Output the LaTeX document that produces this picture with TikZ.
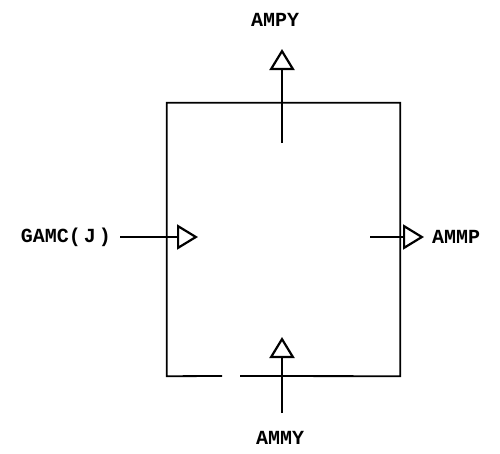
\documentclass[tikz,border=0pt]{standalone}
\usepackage{fontspec}
\setmonofont{Liberation Mono}
\usetikzlibrary{arrows.meta}
\begin{document}
\begin{tikzpicture}[x=1pt,y=-1pt,
  lbl/.style={font=\ttfamily\bfseries\fontsize{20}{22}\selectfont, inner sep=0pt},
  edge/.style={line width=1.8pt},
  flow/.style={line width=2pt, -{Triangle[open,length=21pt,width=25pt,line width=2.2pt]}}]
\useasboundingbox (0,0) rectangle (500,453);
% box
\node (box) [minimum width=233pt, minimum height=273pt, inner sep=0pt] at (283.5,239.5) {};
\coordinate (gapL) at (222,376);
\coordinate (gapR) at (240,376);
\draw[edge] (gapL) -- (box.south west) -- (box.north west) -- (box.north east) -- (box.south east) -- (gapR);
% labels
\node[lbl] (ampy) at (275,20) {AMPY};
\node[lbl, anchor=east] (gamc) at (111,237) {GAMC(\hspace{3pt}J\hspace{3pt})};
\node[lbl, anchor=west] (ammp) at (432,237) {AMMP};
\node[lbl] (ammy) at (280,438) {AMMY};
% arrows
\coordinate (topS) at (282,143);
\coordinate (topT) at (282,49);
\draw[flow] (topS) -- (topT);
\coordinate (leftS) at (120,237);
\coordinate (leftT) at (198,237);
\draw[flow] (leftS) -- (leftT);
\coordinate (rightS) at (370,237);
\coordinate (rightT) at (424,237);
\draw[flow] (rightS) -- (rightT);
\coordinate (botS) at (282,413);
\coordinate (botT) at (282,337);
\draw[flow] (botS) -- (botT);
\end{tikzpicture}
\end{document}
